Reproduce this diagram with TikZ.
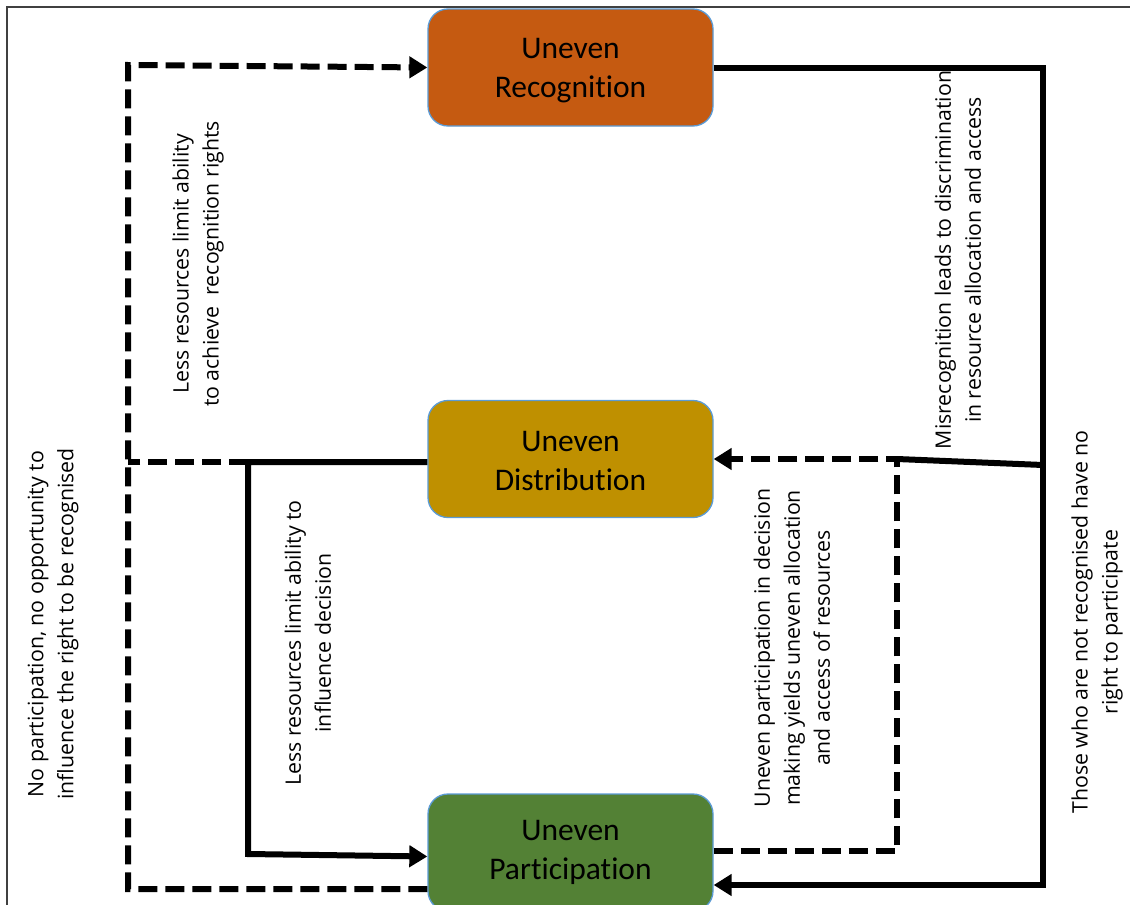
\documentclass[tikz,border=0pt]{standalone}
\usepackage{fontspec}
\setmainfont{Open Sans}
\newfontfamily\boxfont[Ligatures=NoCommon]{Carlito}
\usetikzlibrary{arrows.meta,calc}
\definecolor{boxedge}{HTML}{5B9BD5}
\definecolor{recfill}{HTML}{C55A11}
\definecolor{distfill}{HTML}{BF9000}
\definecolor{partfill}{HTML}{538135}
\begin{document}
\begin{tikzpicture}[x=1pt,y=-1pt,
  box/.style={draw=boxedge, line width=1.3pt, rounded corners=20pt,
    minimum width=285pt, minimum height=117pt, inner sep=0pt},
  boxtext/.style={inner sep=0pt, font=\boxfont\fontsize{31.5}{38.5}\selectfont, align=center, text=black},
  lbl/.style={rotate=90, align=center, font=\fontsize{21.3}{30}\selectfont, inner sep=0pt},
  solidc/.style={line width=6pt},
  dashc/.style={line width=6pt, dash pattern=on 19pt off 8pt},
  tip/.style={-{Triangle[length=18pt,width=21pt]}}]
\useasboundingbox (0,0) rectangle (1130,905);
\fill[white] (0,0) rectangle (1130,905);
% frame
\draw[line width=1.2pt, black!75] (7,905) -- (7,7) -- (1130,7);

% boxes
\node[box, fill=recfill]  (rec)  at (570.5,67.5) {};
\node[box, fill=distfill] (dist) at (570.5,459) {};
\node[box, fill=partfill] (part) at (570.5,852.5) {};
\node[boxtext] (rect)  at ($(rec)+(0,3)$)  {Uneven\\Recognition};
\node[boxtext] (distt) at ($(dist)+(0,2)$) {Uneven\\Distribution};
\node[boxtext] (partt) at ($(part)+(0,0)$) {Uneven\\Participation};

% junction coordinates
\coordinate (lt) at (128,65);
\coordinate (lm) at (128,462);
\coordinate (lb) at (128,889);
\coordinate (im) at (248,462);
\coordinate (ib) at (248,854);
\coordinate (rt) at (1043,67.5);
\coordinate (rm) at (1043,465);
\coordinate (rb) at (1043,885);
\coordinate (dj) at (897,459);
\coordinate (db) at (897,851);

% left side
\draw[dashc, tip] (part.west |- lb) -- (lb) -- (lt) -- (rec.west);
\draw[dashc] (im) -- (lm);
\draw[solidc, tip] (dist.west |- im) -- (im) -- (ib) -- ($(part.west)+(0,4)$);

% right side
\draw[solidc, tip] (rec.east) -- (rt) -- (rb) -- (part.east |- rb);
\draw[solidc] (rm) -- (dj);
\draw[dashc, tip] (part.east |- db) -- (db) -- (dj) -- (dist.east);

% labels
\node[lbl] (l1) at (198,264) {Less resources limit ability\\to achieve\ \ recognition rights};
\node[lbl] (l2) at (53,624) {No participation, no opportunity to\\influence the right to be recognised};
\node[lbl] (l3) at (308,643) {Less resources limit ability to\\influence decision};
\node[lbl] (l4) at (958,260) {Misrecognition leads to discrimination\\in resource allocation and access};
\node[lbl] (l5) at (792,648) {Uneven participation in decision\\making yields uneven allocation\\and access of resources};
\node[lbl] (l6) at (1097,622) {Those who are not recognised have no\\right to participate};
\end{tikzpicture}
\end{document}
